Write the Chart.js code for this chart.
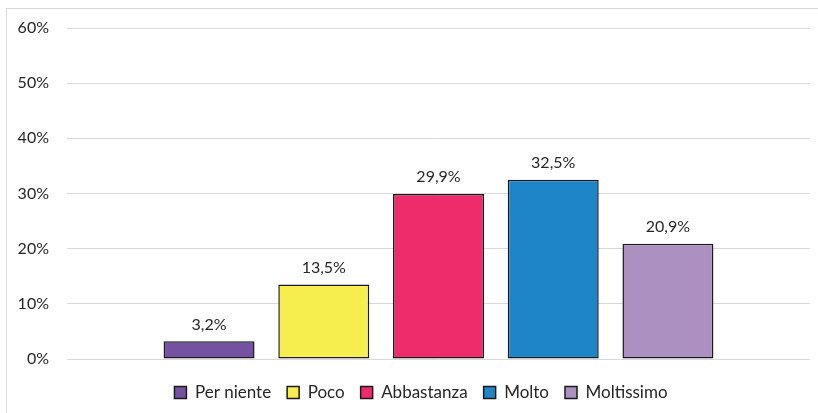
<!DOCTYPE html>
<html>
<head>
<meta charset="utf-8">
<script src="https://cdn.jsdelivr.net/npm/chart.js@4.4.0/dist/chart.umd.min.js"></script>
<style>
  html, body { margin: 0; padding: 0; background: #fff; }
  #wrap { position: absolute; left: 0; top: 0; width: 818px; height: 413px; }
  #frame { position: absolute; left: 6px; top: 8px; width: 830px; height: 430px; border-left: 1px solid #d9d9d9; border-top: 1px solid #d9d9d9; }
  canvas { position: absolute; left: 0; top: 0; }
</style>
</head>
<body>
<div id="wrap">
  <div id="frame"></div>
  <canvas id="c" width="818" height="413"></canvas>
</div>
<script>
const categories = ['Per niente', 'Poco', 'Abbastanza', 'Molto', 'Moltissimo'];
const values = [3.2, 13.5, 29.9, 32.5, 20.9];
const colors = ['#7551A1', '#F6EE4F', '#EE2B6B', '#1E86C8', '#AD90C2'];
const yTicks = [0, 10, 20, 30, 40, 50, 60];

const FONT = 'Lato, "Open Sans", sans-serif';

const datasets = categories.map((name, i) => ({
  label: name,
  data: [values[i]],
  backgroundColor: colors[i],
  borderColor: '#1a1a1a',
  borderWidth: 1.5,
  borderSkipped: false,
  categoryPercentage: 0.772,
  barPercentage: 0.793
}));

const valueLabels = {
  id: 'valueLabels',
  afterDatasetsDraw(chart) {
    const ctx = chart.ctx;
    ctx.save();
    ctx.font = '16px ' + FONT;
    ctx.fillStyle = '#262626';
    ctx.textAlign = 'center';
    ctx.textBaseline = 'middle';
    chart.data.datasets.forEach((ds, i) => {
      const meta = chart.getDatasetMeta(i);
      meta.data.forEach((bar, j) => {
        const txt = ds.data[j].toFixed(1).replace('.', ',') + '%';
        ctx.fillText(txt, bar.x, bar.y - 17);
      });
    });
    ctx.restore();
  }
};

const legendShift = {
  id: 'legendShift',
  afterLayout(chart) {
    if (chart.legend) {
      chart.legend.left += 16;
      chart.legend.right += 16;
    }
  }
};

new Chart(document.getElementById('c'), {
  type: 'bar',
  data: { labels: [''], datasets },
  plugins: [valueLabels, legendShift],
  options: {
    responsive: false,
    animation: false,
    layout: { padding: { left: 0, right: 8, top: 28, bottom: 2 } },
    plugins: {
      tooltip: { enabled: false },
      legend: {
        position: 'bottom',
        labels: {
          font: { family: FONT, size: 17 },
          color: '#262626',
          boxWidth: 12,
          boxHeight: 12,
          padding: 16,
          generateLabels(chart) {
            return chart.data.datasets.map((ds, i) => ({
              text: ds.label,
              fillStyle: ds.backgroundColor,
              strokeStyle: '#1a1a1a',
              lineWidth: 1.5,
              fontColor: '#262626',
              datasetIndex: i
            }));
          }
        }
      }
    },
    scales: {
      x: {
        grid: { display: false },
        border: { display: false },
        ticks: { display: false },
        title: { display: true, text: ' ', font: { size: 1, lineHeight: 1 }, padding: { top: 0, bottom: 0 } }
      },
      y: {
        min: 0,
        max: 60,
        afterFit(scale) { scale.width = 67; },
        afterBuildTicks(scale) { scale.ticks = yTicks.map(v => ({ value: v })); },
        grid: { color: '#d9d9d9', lineWidth: 1, drawTicks: false },
        border: { display: false },
        ticks: {
          padding: 18,
          font: { family: FONT, size: 16 },
          color: '#262626',
          callback: v => v + '%'
        }
      }
    }
  }
});
</script>
</body>
</html>
